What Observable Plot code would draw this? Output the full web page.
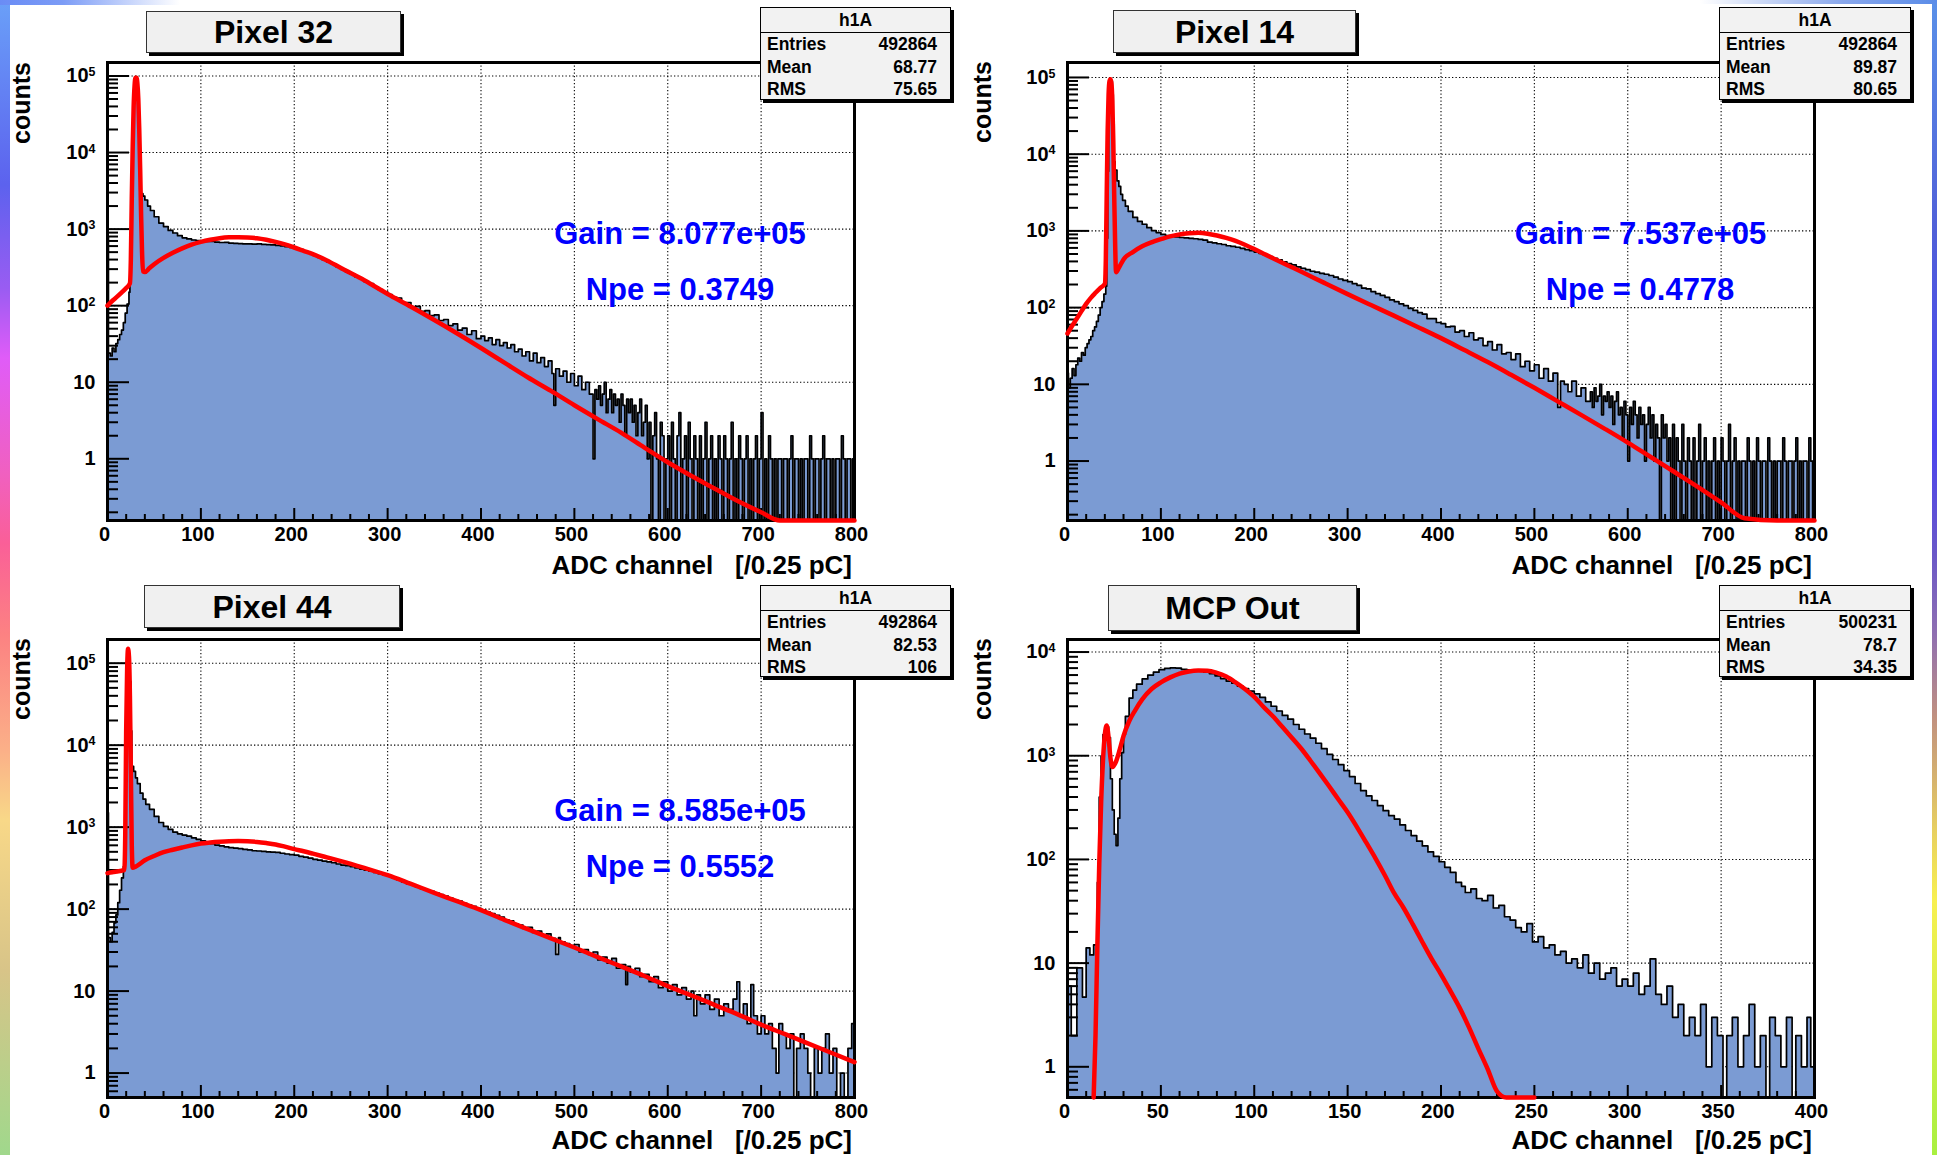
<!DOCTYPE html>
<html>
<head>
<meta charset="utf-8">
<script src="https://cdn.jsdelivr.net/npm/d3@7"></script>
<script src="https://cdn.jsdelivr.net/npm/@observablehq/plot@0.6"></script>
<style>
html,body{margin:0;padding:0;background:#fff;overflow:hidden;}
#page{position:relative;width:1937px;height:1155px;overflow:hidden;background:#fff;
  font-family:"Liberation Sans",Arial,Helvetica,sans-serif;font-weight:bold;color:#000;}
#page svg{position:absolute;overflow:visible;}
.titlebox{position:absolute;box-sizing:border-box;background:#f0f0f0;border:1px solid #333;
  box-shadow:3px 3px 0 #000;display:flex;align-items:center;justify-content:center;font-size:32px;line-height:1;}
.stats{position:absolute;box-sizing:border-box;background:#f2f2f2;border:1px solid #000;box-shadow:3px 3px 0 #000;font-size:17.5px;}
.stats .hdr{height:24px;line-height:25px;text-align:center;border-bottom:1.5px solid #000;}
.stats .row{display:flex;justify-content:space-between;padding:0 13px 0 6px;height:22.5px;line-height:22.5px;}
.lbl{position:absolute;white-space:pre;line-height:1;}
.strip{position:absolute;}
</style>
</head>
<body>
<div id="page"></div>
<script>
// ---------------- DATA ----------------
// histogram bins: [lower edge (ADC channel), counts]; each bin runs to the next edge
const pixel32Counts = [[0,800],[1,24],[3,22],[5,28],[7,25],[9,32],[11,36],[13,42],[15,48],[17,60],[19,80],[21,105],[23,150],[24,220],[25,600],[26,4000],[27,25000],[28,60000],[29,90000],[30,98000],[31,85000],[32,50000],[33,20000],[34,6000],[35,3000],[36,2900],[38,2700],[40,2400],[43,2000],[46,1750],[50,1450],[55,1200],[60,1080],[65,960],[70,890],[75,820],[80,770],[85,745],[90,720],[95,705],
[100,700],[105,690],[110,692],[115,675],[120,668],[125,670],[130,655],[135,652],[140,648],[145,640],[150,642],[155,636],[160,640],[165,630],[170,628],[175,622],[180,612],[185,605],[190,590],[195,575],[200,558],[205,538],[210,508],[215,485],[220,455],[225,428],[230,398],[235,372],[240,348],[245,320],[250,298],[255,276],[260,258],[265,238],[270,224],[275,206],[280,194],[285,176],[290,162],[295,152],[300,140],[305,128],[310,126],[315,110],[320,110],[325,97],[330,98],[335,84],[340,86],[345,74],[350,76],[355,64],[360,66],[365,55],[370,58],[375,48],[380,51],[385,42],[390,47],[395,37],
[400,40],[404,35],[408,38],[412,31],[416,36],[420,30],[424,33],[428,28],[432,31],[436,25],[440,27],[444,22],[448,25],[452,19],[456,24],[460,18],[464,21],[468,16],[472,19],[476,13],[478,5],[480,15],[484,12],[488,14],[492,10],[496,13],[500,9],[504,12],[508,8],[512,10],[516,7],
[520,1],[522,8],[524,6],[526,9],[528,5],[530,7],[532,10],[534,4],[536,6],[538,8],[540,4],[542,7],[544,5],[546,6],[548,3],[550,7],[552,5],[554,2],[556,6],[558,4],[560,6],[562,3],[564,5],[566,2],[568,4],[570,6],[572,2],[574,3],[576,5],[578,1],
[580,3],[582,0],[584,2],[586,4],[588,1],[590,0],[592,3],[594,2],[596,0],[598,1],[600,2],[602,0],[604,3],[606,1],[608,0],[610,2],[612,4],[614,0],[616,1],[618,2],[620,0],[622,3],[624,1],[626,0],[628,2],[630,1],[632,0],[634,2],[636,0],[638,1],[640,3],[642,0],[644,1],[646,2],[648,0],[650,1],[652,0],[654,2],[656,1],[658,0],[660,2],[662,1],[664,0],[666,1],[668,3],[670,0],[672,1],[674,0],[676,2],[678,1],[680,0],[682,1],[684,2],[686,0],[688,1],[690,0],[692,1],[694,2],[696,0],[698,1],
[700,4],[702,0],[704,1],[706,0],[708,2],[710,1],[712,0],[714,1],[716,0],[718,1],[720,1],[722,0],[724,1],[726,1],[728,0],[730,1],[732,2],[734,0],[736,1],[738,1],[740,0],[742,1],[744,0],[746,1],[748,1],[750,0],[752,2],[754,1],[756,0],[758,1],[760,1],[762,0],[764,1],[766,2],[768,0],[770,1],[772,1],[774,0],[776,1],[778,0],[780,1],[782,1],[784,0],[786,2],[788,1],[790,0],[792,1],[794,1],[796,0],[798,1]];
const pixel32Fit = [[0,100],[5,115],[10,130],[15,148],[20,170],[24,195],[25,400],[26,2500],[27,12000],[28,40000],[29,75000],[30,95000],[31,95000],[32,80000],[33,50000],[34,20000],[35,6000],[36,1500],[37,500],[38,280],[40,275],[45,310],[50,348],[60,420],[70,490],[80,560],[90,625],[100,680],[110,725],[120,760],[130,780],[140,785],[150,778],[160,760],[170,725],[180,680],[190,630],[200,575],[210,520],[220,470],[235,390],[250,310],[275,215],[300,142],[325,97],[350,65],[375,43],[400,28],[425,18],[450,11.6],[475,7.7],[500,5],[525,3.3],[550,2.2],[575,1.4],[600,0.9],[625,0.6],[650,0.41],[675,0.28],[700,0.2],[720,0.15],[760,0.1],[800,0.07]];

const pixel14Counts = [[0,14],[1,9],[3,12],[5,16],[7,13],[9,18],[11,22],[13,20],[15,26],[17,24],[19,30],[21,34],[23,38],[25,42],[27,50],[29,56],[31,66],[33,80],[35,100],[37,120],[39,150],[41,190],[42,800],[43,6000],[44,35000],[45,80000],[46,95000],[47,90000],[48,60000],[49,25000],[50,8000],[51,6200],[53,4500],[55,3800],[57,3000],[59,2500],[62,2100],[65,1800],[70,1500],[75,1330],[80,1220],[85,1100],[90,1010],[95,950],
[100,900],[105,870],[110,850],[115,835],[120,820],[125,810],[130,800],[135,790],[140,775],[145,760],[150,712],[155,700],[160,680],[165,665],[170,640],[175,628],[180,612],[185,592],[190,570],[195,552],[200,530],[205,510],[210,482],[215,462],[220,440],[225,418],[230,395],[235,376],[240,360],[245,340],[250,326],[255,312],[260,298],[265,290],[270,280],[275,272],[280,262],[285,250],[290,236],[295,226],[300,218],[305,205],[310,195],[315,180],[320,175],[325,162],[330,152],[335,144],[340,136],[345,126],[350,120],[355,112],[360,106],[365,98],[370,92],[375,86],[380,82],[385,72],[390,72],[395,64],[400,62],[405,56],[410,57],[415,48],[420,50],[425,42],[430,47],[435,38],[440,40],[445,32],[450,36],[455,28],[460,33],[465,25],[470,26],[475,21],[480,25],[485,17],[490,20],[495,15],[500,18],[505,12],[510,16],[515,11],[520,14],[525,5],[528,11],[532,10],[536,8],[540,11],[545,7],[550,9],[555,6],
[560,8],[562,5],[564,9],[566,6],[568,7],[570,10],[572,4],[574,7],[576,6],[578,8],[580,5],[582,7],[584,3],[586,6],[588,8],[590,4],[592,5],[594,2],[596,6],[598,4],[600,1],[602,5],[604,3],[606,6],[608,4],[610,2],[612,5],[614,3],[616,4],[618,1],[620,3],[622,5],[624,2],[626,4],[628,1],[630,3],[632,2],[634,0],[636,4],[638,2],[640,3],[642,1],[644,2],[646,0],[648,3],
[650,0],[652,2],[654,1],[656,0],[658,3],[660,1],[662,0],[664,2],[666,1],[668,0],[670,2],[672,0],[674,1],[676,3],[678,0],[680,1],[682,2],[684,0],[686,1],[688,0],[690,1],[692,2],[694,0],[696,1],[698,0],[700,2],[702,1],[704,0],[706,1],[708,3],[710,0],[712,1],[714,2],[716,0],[718,1],[720,0],[722,1],[724,1],[726,0],[728,2],[730,1],[732,0],[734,1],[736,0],[738,2],[740,1],[742,0],[744,1],[746,1],[748,0],[750,2],[752,1],[754,0],[756,1],[758,0],[760,1],[762,1],[764,0],[766,2],[768,1],[770,0],[772,1],[774,1],[776,0],[778,1],[780,2],[782,0],[784,1],[786,0],[788,1],[790,1],[792,0],[794,2],[796,1],[798,0]];
const pixel14Fit = [[0,46],[5,58],[10,72],[15,90],[20,112],[25,134],[30,156],[35,180],[40,205],[41,400],[42,3000],[43,20000],[44,60000],[45,90000],[46,95000],[47,85000],[48,50000],[49,15000],[50,3000],[51,700],[52,290],[55,330],[60,425],[70,530],[80,630],[90,710],[100,780],[110,850],[120,900],[130,930],[140,945],[150,920],[160,870],[170,810],[180,740],[190,660],[200,580],[210,505],[220,440],[235,360],[250,295],[275,210],[300,150],[325,108],[350,78],[375,56],[400,40],[425,28],[450,19.5],[475,13.3],[500,9],[525,6],[550,4],[575,2.65],[600,1.74],[625,1.12],[650,0.72],[675,0.46],[700,0.29],[725,0.18],[760,0.1],[800,0.06]];

const pixel44Counts = [[0,1500],[1,45],[3,40],[5,52],[7,68],[9,85],[11,120],[13,170],[15,240],[17,330],[18,450],[19,2000],[20,20000],[21,90000],[22,140000],[23,120000],[24,60000],[25,15000],[26,5500],[28,4800],[30,4000],[32,3400],[35,2600],[38,2200],[41,1900],[45,1650],[50,1350],[55,1140],[60,1020],[65,940],[70,870],[75,830],[80,800],[85,775],[90,740],[95,710],
[100,680],[105,655],[110,630],[115,605],[120,590],[125,575],[130,562],[135,555],[140,548],[145,535],[150,528],[155,515],[160,512],[165,505],[170,500],[175,495],[180,492],[185,480],[190,470],[195,462],[200,455],[205,440],[210,430],[215,418],[220,405],[225,395],[230,385],[235,378],[240,368],[245,355],[250,345],[255,338],[260,330],[265,318],[270,308],[275,298],[280,290],[285,280],[290,270],[295,262],[300,252],[305,240],[310,228],[315,215],[320,205],[325,198],[330,185],[335,178],[340,170],[345,165],[350,158],[355,150],[360,144],[365,136],[370,130],[375,125],[380,118],[385,112],[390,108],[395,102],[400,98],[405,92],[410,88],[415,84],[420,80],[425,74],[430,72],[435,66],[440,64],[445,58],[450,60],[455,52],[460,54],[465,48],[470,50],[475,44],[480,28],[483,45],[485,40],[490,38],[495,36],[500,37],[505,30],[510,32],[515,28],[520,30],[525,24],[530,26],[535,22],[540,25],[545,19],[550,21],[555,12],[557,20],[560,17],[565,19],[570,15],[575,16],[580,13],[585,15],[590,11],[595,13],[600,10],[605,12],[610,9],[615,11],[620,8],[625,10],[628,5],[631,9],[635,7],[640,9],[645,6],[650,8],[655,5],[660,7],[665,6],[670,8],[674,13],[677,5],[681,7],[685,4],[689,12],[692,5],[696,3],[700,5],[704,3],[708,4],[712,2],[716,1],[719,4],[723,3],[727,2],[731,3],[735,0],[738,2],[742,3],[746,2],[750,1],[753,0],[757,2],[761,1],[765,2],[769,3],[773,1],[777,2],[781,0],[785,1],[789,0],[793,2],[797,4]];
const pixel44Fit = [[0,275],[5,282],[10,288],[15,294],[18,300],[19,800],[20,15000],[21,80000],[22,150000],[23,120000],[24,40000],[25,5000],[26,600],[27,320],[30,330],[40,394],[50,445],[60,495],[70,530],[80,565],[90,600],[100,630],[110,648],[120,662],[130,672],[140,676],[150,672],[160,660],[170,640],[180,615],[190,578],[200,540],[210,508],[220,475],[235,428],[250,385],[275,318],[300,260],[325,203],[350,158],[375,124],[400,97],[425,74],[450,57],[475,44],[500,34],[525,26],[550,20],[575,15.3],[600,11.5],[625,8.9],[650,6.8],[675,5.2],[700,3.9],[725,3.0],[750,2.3],[775,1.77],[800,1.36]];

const mcpCounts = [[0,6],[2,2],[4,2],[5,9],[8,4.7],[10,14],[12,12],[14,15],[16,60],[17,400],[18,1000],[19,1600],[20,1900],[22,1500],[23,600],[24,300],[25,175],[26,136],[27,250],[28,600],[29,1070],[30,1600],[31,2400],[33,3600],[35,4300],[37,4900],[40,5500],[43,6000],[46,6400],[49,6760],[52,6950],[55,7050],[58,7000],[61,6800],[64,6750],[67,6650],[70,6600],[73,6400],[76,6200],[79,5900],[82,5550],[85,5250],[88,5000],[91,4700],[94,4450],[97,4200],[100,3950],[103,3650],[106,3300],[109,3000],[112,2700],[115,2450],[118,2250],[121,2000],[124,1800],[127,1620],[130,1480],[133,1320],[136,1170],[139,1030],[142,920],[145,820],[148,720],[151,630],[154,540],[157,460],[160,410],[163,370],[166,330],[169,295],[172,265],[175,245],[178,215],[181,190],[184,170],[187,150],[190,135],[193,118],[196,107],[199,95],[202,84],[205,75],[208,60],[211,55],[213,48],[216,52],[219,42],[222,40],[225,45],[228,34],[231,36],[234,28],[237,26],[240,22],[243,20],[246,24],[249,16],[252,18],[255,14],[258,15],[261,12],[264,13],[267,10],[270,11],[273,9],[276,12],[279,8],[282,10],[285,7],[288,8],[291,9],[294,6],[297,7],[300,6],[303,8],[306,5],[309,6],[312,11],[315,5],[318,4],[321,6],[324,3],[327,4],[330,2],[333,3],[336,2],[339,4],[342,1],[345,3],[348,2],[351,0],[353,2],[356,3],[359,1],[362,2],[365,4],[368,1],[371,2],[374,0],[376,3],[379,2],[382,1],[385,3],[388,0],[390,2],[393,1],[396,3],[398,1]];
const mcpFit = [[14,0.3],[15,2],[16,15],[17,90],[18,350],[19,900],[20,1600],[21,1960],[22,1500],[23,950],[24,780],[26,880],[28,1150],[30,1550],[33,2150],[36,2700],[40,3500],[45,4400],[50,5100],[55,5700],[60,6200],[65,6500],[70,6620],[75,6600],[80,6300],[85,5800],[90,5100],[95,4400],[100,3700],[105,2950],[110,2400],[115,1900],[120,1500],[125,1180],[130,900],[135,680],[140,510],[145,380],[150,285],[155,205],[160,145],[165,102],[170,70],[175,47],[180,34],[185,23.5],[190,16],[195,11],[200,7.8],[205,5.4],[210,3.7],[215,2.4],[220,1.5],[225,0.95],[230,0.58],[235,0.35],[240,0.22],[250,0.1]];

const panelTitles = ["Pixel 32","Pixel 14","Pixel 44","MCP Out"];
const statEntries = ["492864","492864","492864","500231"];
const statMeans   = ["68.77","89.87","82.53","78.7"];
const statRMS     = ["75.65","80.65","106","34.35"];
const gainTexts   = ["Gain = 8.077e+05","Gain = 7.537e+05","Gain = 8.585e+05",null];
const npeTexts    = ["Npe = 0.3749","Npe = 0.4778","Npe = 0.5552",null];
const xTickStep   = [100,100,100,50];
const xMinorStep  = [20,20,20,10];
const xMaxes      = [800,800,800,400];
const yDecadeRange = [[-0.806,5.176],[-0.775,5.195],[-0.298,5.289],[-0.296,4.121]];
const yLabelTicks = [[1,10,100,1e3,1e4,1e5],[1,10,100,1e3,1e4,1e5],[1,10,100,1e3,1e4,1e5],[1,10,100,1e3,1e4]];

// ---------------- LAYOUT ----------------
const layout = [
  {frame:[107,854,62,520],  title:[146,11,255,42],  stats:[760,7,191,93],   countsX:30,  countsTop:62,  xlab:[852,565],  gain:[680,233.5], npe:[680,289]},
  {frame:[1067,1814,62,520],title:[1113,10,243,43], stats:[1719,7,192,93],  countsX:991, countsTop:61,  xlab:[1812,565], gain:[1640.5,233.5], npe:[1640,289]},
  {frame:[107,854,639,1097],title:[144,585,256,43], stats:[760,585,191,92], countsX:30,  countsTop:638, xlab:[852,1140], gain:[680,810], npe:[680,866]},
  {frame:[1067,1814,639,1097],title:[1108,585,249,46],stats:[1719,585,192,92],countsX:991, countsTop:638, xlab:[1812,1140]}
];
const countsData = [pixel32Counts,pixel14Counts,pixel44Counts,mcpCounts];
const fitData = [pixel32Fit,pixel14Fit,pixel44Fit,mcpFit];

const page = document.getElementById("page");
const FILL = "#7b9bd3";

function addLabel(text, {x, cy, size, anchor="middle", color="#000"}) {
  const d = document.createElement("div");
  d.className = "lbl";
  d.textContent = text;
  d.style.fontSize = size + "px";
  d.style.color = color;
  d.style.top = (cy - 0.4885*size) + "px";
  if (anchor === "end") { d.style.right = (1937 - x) + "px"; }
  else if (anchor === "middle") { d.style.left = x + "px"; d.style.transform = "translateX(-50%)"; }
  else d.style.left = x + "px";
  page.appendChild(d);
  return d;
}

function buildPanel(i) {
  const L = layout[i];
  const [x0,x1,y0,y1] = L.frame;
  const fw = x1-x0, fh = y1-y0;
  const mL=70, mR=14, mT=14, mB=40;
  const xMax = xMaxes[i];
  const ymin = 10**yDecadeRange[i][0], ymax = 10**yDecadeRange[i][1];
  const clampY = v => Math.max(v, ymin);
  const bins = countsData[i];
  const steps = bins.map(([x,y]) => ({x, y: clampY(y)}));
  steps.push({x: xMax, y: steps[steps.length-1].y});
  const fitPts = fitData[i].map(([x,y]) => ({x, y: clampY(y)}));
  const xMajor = d3.range(0, xMax + 1e-6, xTickStep[i]);
  const xMinor = d3.range(0, xMax + 1e-6, xMinorStep[i]).filter(v => !xMajor.includes(v));
  const yMajor = yLabelTicks[i];
  const yMinor = [];
  for (let e = Math.floor(yDecadeRange[i][0]); e < yDecadeRange[i][1]; e++)
    for (let m = 2; m <= 9; m++) { const v = m * 10**e; if (v >= ymin && v <= ymax) yMinor.push(v); }
  const gridX = xMajor.filter(v => v > 0 && v < xMax);
  const gridY = yMajor;

  const svg = Plot.plot({
    width: fw+mL+mR, height: fh+mT+mB,
    marginLeft: mL, marginRight: mR, marginTop: mT, marginBottom: mB,
    style: {background:"transparent", fontFamily:'"Liberation Sans", Arial, sans-serif', fontSize:"20px", fontWeight:"bold", color:"#000", overflow:"visible"},
    x: {domain:[0,xMax], ticks:xMajor, tickSize:0, tickPadding:6, label:null, tickFormat:d=>String(d)},
    y: {type:"log", domain:[ymin,ymax], ticks:yMajor, tickSize:0, tickPadding:12, label:null,
        tickFormat: d => d >= 100 ? "10^" + Math.round(Math.log10(d)) : String(d)},
    marks: [
      Plot.ruleX(gridX, {x:d=>d, stroke:"#000", strokeWidth:1.1, strokeDasharray:"1.3,2.2"}),
      Plot.ruleY(gridY, {y:d=>d, stroke:"#000", strokeWidth:1.1, strokeDasharray:"1.3,2.2"}),
      Plot.area(steps, {x1:"x", y1:() => ymin, y2:"y", curve:"step-after", fill:FILL}),
      Plot.line(steps, {x:"x", y:"y", curve:"step-after", stroke:"#000", strokeWidth:1.7}),
      Plot.tickX(xMinor, {x:d=>d, insetTop:fh-6, stroke:"#000", strokeWidth:2}),
      Plot.tickX(xMajor, {x:d=>d, insetTop:fh-12, stroke:"#000", strokeWidth:2}),
      Plot.tickY(yMinor, {y:d=>d, insetRight:fw-11, stroke:"#000", strokeWidth:2}),
      Plot.tickY(yMajor, {y:d=>d, insetRight:fw-22, stroke:"#000", strokeWidth:2}),
      Plot.frame({stroke:"#000", strokeWidth:3}),
      Plot.line(fitPts, {x:"x", y:"y", stroke:"#ff0000", strokeWidth:4.5, curve:"monotone-x"})
    ]
  });
  svg.style.left = (x0 - mL) + "px";
  svg.style.top = (y0 - mT) + "px";
  // superscript exponents on the log-axis labels
  svg.querySelectorAll("text").forEach(t => {
    const m = t.textContent.match(/^10\^(-?\d+)$/);
    if (m) {
      t.textContent = "10";
      const s = document.createElementNS("http://www.w3.org/2000/svg","tspan");
      s.setAttribute("dy","-0.5em");
      s.setAttribute("font-size","0.62em");
      s.textContent = m[1];
      t.appendChild(s);
    }
  });
  // ROOT places the x labels slightly left of their ticks
  svg.querySelectorAll('g[aria-label="x-axis tick label"], g[aria-label="x-axis"]').forEach(g => {
    g.setAttribute("transform", "translate(-3,0) " + (g.getAttribute("transform") || ""));
  });
  page.appendChild(svg);

  // y axis title "counts" (rotated, ending at the frame top)
  const c = document.createElement("div");
  c.className = "lbl";
  c.textContent = "counts";
  const cs = 25;
  c.style.fontSize = cs + "px";
  c.style.left = (L.countsX - 0.8465*cs) + "px";
  c.style.top = L.countsTop + "px";
  c.style.transformOrigin = "0 0";
  c.style.transform = "rotate(-90deg) translateX(-100%)";
  page.appendChild(c);

  // x axis title
  addLabel("ADC channel   [/0.25 pC]", {x:L.xlab[0], cy:L.xlab[1], size:26, anchor:"end"});

  // fit annotations
  if (gainTexts[i]) addLabel(gainTexts[i], {x:L.gain[0], cy:L.gain[1], size:31, color:"#0000ff"});
  if (npeTexts[i]) addLabel(npeTexts[i], {x:L.npe[0], cy:L.npe[1], size:31, color:"#0000ff"});

  // title box
  const tb = document.createElement("div");
  tb.className = "titlebox";
  const [tx,ty,tw,th] = L.title;
  Object.assign(tb.style, {left:tx+"px", top:ty+"px", width:tw+"px", height:th+"px"});
  tb.textContent = panelTitles[i];
  page.appendChild(tb);

  // stats box
  const sb = document.createElement("div");
  sb.className = "stats";
  const [sx,sy,sw,sh] = L.stats;
  Object.assign(sb.style, {left:sx+"px", top:sy+"px", width:sw+"px", height:sh+"px"});
  const hdr = document.createElement("div"); hdr.className = "hdr"; hdr.textContent = "h1A"; sb.appendChild(hdr);
  [["Entries",statEntries[i]],["Mean",statMeans[i]],["RMS",statRMS[i]]].forEach(([k,v]) => {
    const r = document.createElement("div"); r.className = "row";
    const a = document.createElement("span"); a.textContent = k;
    const b = document.createElement("span"); b.textContent = v;
    r.appendChild(a); r.appendChild(b); sb.appendChild(r);
  });
  page.appendChild(sb);
}

// decorative slide border strips
function strip(style) { const d = document.createElement("div"); d.className = "strip"; Object.assign(d.style, style); page.appendChild(d); }
strip({left:"0px", top:"0px", width:"10px", height:"1155px",
  background:"linear-gradient(to bottom,#6aa0f8 0%,#5c62ee 16%,#9a5cf2 25%,#e05cf8 31%,#f060c0 41%,#fa5f98 47%,#fc8282 55%,#fbb088 65%,#f8d888 71%,#d8c488 84%,#a0d88c 100%)"});
strip({left:"0px", top:"0px", width:"180px", height:"5px",
  background:"linear-gradient(to right,#6a8cf5 0%,#7c9cf6 35%,rgba(255,255,255,0) 100%)"});
strip({left:"1932px", top:"0px", width:"5px", height:"1155px",
  background:"linear-gradient(to bottom,#5a90e8 0%,#5060d8 20%,#4a44f0 38%,#6a58c8 48%,#9070b0 55%,#c09080 62%,#e8d060 72%,#f8f050 78%,#a8f040 100%)"});
strip({left:"1700px", top:"0px", width:"237px", height:"4px",
  background:"linear-gradient(to right,rgba(255,255,255,0) 0%,#8aa8ec 60%,#5a8ce8 100%)"});

for (let i = 0; i < 4; i++) buildPanel(i);
</script>
</body>
</html>
